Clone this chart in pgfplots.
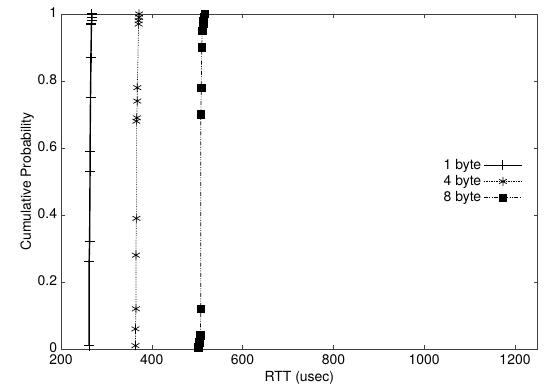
\documentclass[border=0pt]{standalone}
\usepackage{pgfplots}
\pgfplotsset{compat=1.18}
\usepackage{fontspec}
\setmainfont{TeX Gyre Heros}
\begin{document}
\fontsize{14}{16}\selectfont
\begin{tikzpicture}
\path[use as bounding box] (-61bp,-43bp) rectangle (489bp,349bp);
\begin{axis}[
  at={(0,0)}, anchor=south west,
  scale only axis, width=476.7bp, height=335bp,
  xmin=200, xmax=1250, ymin=0, ymax=1,
  xtick={200,400,...,1200}, ytick={0,0.2,...,1},
  yticklabels={0,0.2,0.4,0.6,0.8,1},
  xticklabels={200,400,600,800,1000,1200},
  tick pos=both, tick align=inside,
  major tick length=4bp,
  axis line style={line width=0.6pt, black!75},
  tick style={line width=0.5pt, black!75},
  /pgf/number format/assume math mode=true,
  tick label style={font=\fontsize{14}{16}\selectfont, inner sep=1bp},
  label style={font=\fontsize{14}{16}\selectfont},
  xticklabel style={yshift=-4.7bp},
  yticklabel style={xshift=-2.7bp, yshift=1.5bp},
  xlabel={RTT (usec)}, ylabel={Cumulative Probability},
  xlabel style={yshift=0bp},
  ylabel style={yshift=-2bp},
  legend plot pos=right,
  legend cell align=right,
  legend style={at={(0.975,0.5)}, anchor=east, draw=none, fill=none,
    font=\fontsize{14}{16}\selectfont, row sep=0bp},
  legend image code/.code={\draw[mark repeat=2,mark phase=2] plot coordinates {(0cm,0cm)(0.67cm,0cm)(1.34cm,0cm)};},
]
\addplot[black, line width=1.4pt, mark=+, mark size=5bp, mark options={solid, line width=1.1pt}] coordinates {
(262,0.01)(262,0.26)(263,0.32)(264,0.53)(264,0.59)(265,0.75)(266,0.87)(267,0.97)(268,0.98)(268,0.99)(268,1.0)};
\addlegendentry{1 byte}
\addplot[black, line width=0.7pt, densely dotted, mark=asterisk, mark size=4.5bp, mark options={solid, line width=0.7pt}] coordinates {
(364,0.01)(364,0.06)(365,0.12)(365,0.28)(366,0.39)(366,0.68)(367,0.69)(368,0.74)(368,0.78)(371,0.97)(371,0.98)(372,0.99)(372,1.0)};
\addlegendentry{4 byte}
\addplot[black, line width=0.7pt, dash pattern=on 4bp off 1.5bp on 0.8bp off 1.5bp on 0.8bp off 1.5bp, mark=square*, mark size=3.8bp, mark options={solid}] coordinates {
(503,0.005)(504,0.01)(505,0.02)(506,0.03)(507,0.04)(508,0.12)(508,0.70)(509,0.78)(510,0.90)(511,0.95)(512,0.96)(513,0.97)(514,0.98)(515,0.99)(517,1.0)};
\addlegendentry{8 byte}
\end{axis}
\end{tikzpicture}
\end{document}
